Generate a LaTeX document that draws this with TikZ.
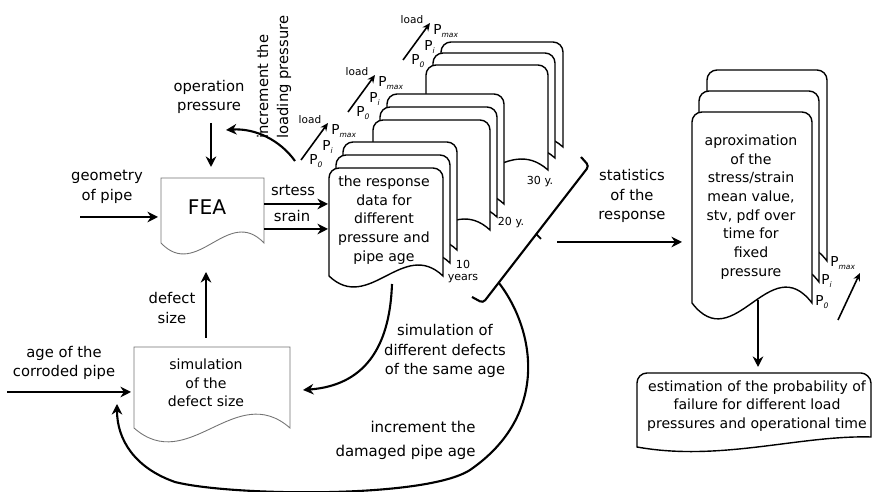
\documentclass[tikz,border=0pt]{standalone}
\usepackage{fontspec}
\setmainfont{DejaVu Sans}
\usetikzlibrary{arrows.meta}

% page with rounded top and wavy bottom: style, x, y, w, h, wave, radius
\newcommand{\pagedoc}[7]{%
  \draw[#1] (#2,#3+#5) -- (#2,#3+#7)
    .. controls (#2,#3+0.45*#7) and (#2+0.45*#7,#3) .. (#2+#7,#3)
    -- (#2+#4-#7,#3)
    .. controls (#2+#4-0.45*#7,#3) and (#2+#4,#3+0.45*#7) .. (#2+#4,#3+#7)
    -- (#2+#4,#3+#5)
    .. controls (#2+0.65*#4,#3+#5-#6) and (#2+0.35*#4,#3+#5+#6) .. (#2,#3+#5)
    -- cycle;}
\newcommand{\pres}[1]{P\raisebox{-0.5ex}{\fontsize{4.3}{5}\selectfont\itshape #1}}

\begin{document}
\begin{tikzpicture}[
    x=0.02cm, y=-0.02cm,
    >={Stealth[length=6pt,width=6pt]},
    doc/.style={draw, fill=white, line width=0.8pt},
    thindoc/.style={draw=black!55, fill=white, line width=0.5pt},
    flow/.style={->, line width=1.2pt},
    ldarrow/.style={->, line width=0.9pt, >={Stealth[length=4.5pt,width=4pt]}},
    lbl/.style={inner sep=0pt, align=center, font=\fontsize{8.4}{11.3}\selectfont},
    txt/.style={inner sep=0pt, align=center, font=\fontsize{8}{10.6}\selectfont},
    agelbl/.style={inner sep=0pt, align=center, font=\fontsize{6.3}{6.8}\selectfont},
    ldlbl/.style={inner sep=0pt, font=\fontsize{6}{7}\selectfont},
    pl/.style={inner sep=0pt, anchor=west, font=\fontsize{7.8}{8}\selectfont}
  ]
  \useasboundingbox (0,0) rectangle (873,492);

  %% ---- FEA ----
  \node[lbl] (geom) at (107,187) {geometry\\of pipe};
  \node[lbl] (oper) at (209,97) {operation\\pressure};
  \pagedoc{thindoc}{161}{178}{103}{65}{38}{0}
  \node[inner sep=0pt, font=\fontsize{11.5}{12}\selectfont] (fea) at (207,207) {FEA};

  \coordinate (geomS) at (80,217);
  \coordinate (feaW) at (158,217);
  \coordinate (operS) at (211,123);
  \coordinate (feaN) at (211,167);
  \draw[flow] (geomS) -- (feaW);
  \draw[flow] (operS) -- (feaN);

  %% ---- response stacks (30 y., 20 y., 10 years) ----
  \pagedoc{doc}{441}{42}{122}{105}{38}{10}
  \pagedoc{doc}{433}{53}{122}{105}{38}{10}
  \pagedoc{doc}{426}{65}{122}{105}{38}{10}
  \pagedoc{doc}{387}{94}{117}{110}{38}{10}
  \pagedoc{doc}{380}{107}{117}{110}{38}{10}
  \pagedoc{doc}{373}{120}{117}{110}{38}{10}
  \pagedoc{doc}{343}{142}{114}{108}{38}{10}
  \pagedoc{doc}{336}{155}{114}{108}{38}{10}
  \pagedoc{doc}{329}{168}{114}{108}{38}{10}

  \node[txt] (resp) at (384,220) {the response\\data for\\different\\pressure and\\pipe age};
  \node[agelbl] (age10) at (463,272) {10\\years};
  \node[agelbl] (age20) at (511,223) {20 y.};
  \node[agelbl] (age30) at (540,182) {30 y.};

  % load steps
  \foreach \tx/\ty [count=\k] in {328/123, 375/75, 430/23} {
    \coordinate (ldtip\k) at (\tx,\ty);
    \coordinate (ldbase\k) at (\tx-27,\ty+37);
    \draw[ldarrow] (ldbase\k) -- (ldtip\k);
    \node[ldlbl] (load\k) at (\tx-18,\ty-3) {load};
    \node[pl] (pmax\k) at (\tx+3,\ty+8) {\pres{max}};
    \node[pl] (pi\k) at (\tx-6,\ty+24) {\pres{i}};
    \node[pl] (pz\k) at (\tx-19,\ty+38) {\pres{0}};
  }

  % FEA -> response
  \node[lbl] (stress) at (293,190) {srtess};
  \node[lbl] (strain) at (292,216) {srain};
  \coordinate (feaE1) at (264,204);
  \coordinate (respW1) at (328,204);
  \coordinate (feaE2) at (264,229);
  \coordinate (respW2) at (328,229);
  \draw[flow] (feaE1) -- (respW1);
  \draw[flow] (feaE2) -- (respW2);

  % increment the loading pressure
  \node[lbl, rotate=90, anchor=west, align=left] (incload) at (274,139) {increment the\\loading pressure};
  \coordinate (incS) at (295,161);
  \coordinate (operE) at (226,130);
  \draw[flow] (incS) .. controls (280,140) and (255,128) .. (operE);

  %% ---- defect simulation ----
  \pagedoc{thindoc}{134}{347}{156}{81}{48}{0}
  \node[txt] (simtxt) at (206,383) {simulation\\of the\\defect size};
  \node[lbl] (dsize) at (172,308) {defect\\size};
  \node[lbl] (agecp) at (64,363) {age of the\\corroded pipe};

  \coordinate (simN) at (206,338);
  \coordinate (feaS) at (206,272);
  \coordinate (ageS) at (7,392);
  \coordinate (simW) at (131,392);
  \draw[flow] (simN) -- (feaS);
  \draw[flow] (ageS) -- (simW);

  % same age defects
  \node[lbl] (simdef) at (445,351) {simulation of\\different defects\\of the same age};
  \coordinate (respS) at (392,284);
  \coordinate (simE) at (303,390);
  \draw[flow] (respS) .. controls (390,340) and (370,385) .. (simE);

  %% ---- bracket and pipe age loop ----
  \coordinate (brTop) at (581,157);
  \coordinate (brA) at (589,166);
  \coordinate (brB) at (483,303);
  \coordinate (brEnd) at (472,297);
  \draw[line width=1.2pt, rounded corners=2pt] (brTop) -- (brA) -- (brB) -- (brEnd);
  \coordinate (brMid) at (536,234);
  \coordinate (brTick) at (541,239);
  \draw[line width=1pt] (brMid) -- (brTick);

  \node[lbl, align=right, anchor=east, font=\fontsize{8.5}{13.6}\selectfont] (incage) at (476,440) {increment the\\damaged pipe age};
  \coordinate (loopS) at (499,283);
  \coordinate (simSW) at (117,404);
  \draw[flow] (loopS) .. controls (535,330) and (550,415) .. (470,470)
    .. controls (425,499) and (230,496) .. (175,482)
    .. controls (135,468) and (117,440) .. (simSW);

  %% ---- statistics ----
  \node[lbl] (stats) at (632,196) {statistics\\of the\\response};
  \coordinate (statS) at (557,242);
  \coordinate (apxW) at (682,242);
  \draw[flow] (statS) -- (apxW);

  \pagedoc{doc}{707}{70}{120}{191}{55}{10}
  \pagedoc{doc}{699}{91}{120}{191}{55}{10}
  \pagedoc{doc}{692}{112}{120}{191}{55}{10}
  \node[txt] (apx) at (751,207) {aproximation\\of the\\stress/strain\\mean value,\\stv, pdf over\\time for\\fixed\\pressure};
  \node[pl] (rpmax) at (830,263) {\pres{max}};
  \node[pl] (rpi) at (821,281) {\pres{i}};
  \node[pl] (rpz) at (815,302) {\pres{0}};
  \coordinate (rldbase) at (838,320);
  \coordinate (rldtip) at (860,273);
  \draw[ldarrow] (rldbase) -- (rldtip);

  %% ---- estimation ----
  \draw[doc] (637,447) -- (637,383) .. controls (637,377.5) and (641.5,373) .. (647,373)
    -- (861,373) .. controls (865.5,373) and (871,377.5) .. (871,383)
    -- (871,437) .. controls (800,435) and (720,462) .. (637,447) -- cycle;
  \node[txt] (est) at (757,406) {estimation of the probability of\\failure for different load\\pressures and operational time};
  \coordinate (apxS) at (758,300);
  \coordinate (estN) at (758,367);
  \draw[flow] (apxS) -- (estN);

\end{tikzpicture}
\end{document}
